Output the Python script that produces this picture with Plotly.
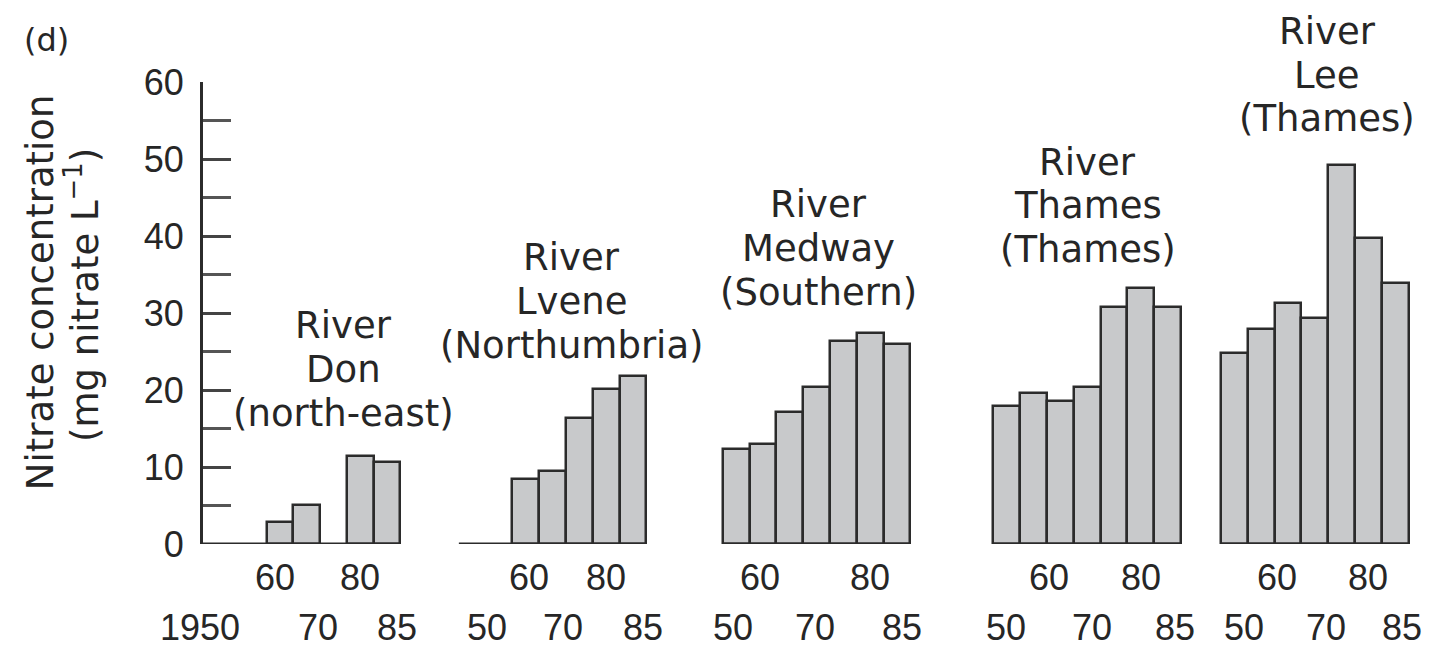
import plotly.graph_objects as go

# ---------------- data ----------------
river_names = ["Don", "Lvene", "Medway", "Thames", "Lee"]
river_regions = ["(north-east)", "(Northumbria)", "(Southern)", "(Thames)", "(Thames)"]
don = [None, None, 2.9, 5.1, None, 11.4, 10.7]
lvene = [None, None, 8.4, 9.5, 16.3, 20.1, 21.8]
medway = [12.3, 13.0, 17.2, 20.4, 26.4, 27.4, 26.0]
thames = [17.9, 19.6, 18.6, 20.4, 30.8, 33.2, 30.8]
lee = [24.8, 27.9, 31.3, 29.4, 49.2, 39.8, 33.9]
series = [don, lvene, medway, thames, lee]

upper_labels = ["60", "80"]
lower_labels_first = ["1950", "70", "85"]
lower_labels = ["50", "70", "85"]

# ---------------- layout constants ----------------
X_MAX = 45.2
Y_MAX = 60.0
group_start = [0.37, 9.55, 19.4, 29.5, 38.0]        # slot units
baseline_start = [0.0, 9.55, 19.4, 29.5, 38.0]
upper_off = [[2.33, 5.49], [2.6, 5.5], [1.4, 5.5], [2.07, 5.5], [2.1, 5.5]]
lower_off = [[-0.5, 3.94, 6.87], [1.05, 3.9, 6.86], [0.37, 3.46, 6.7],
             [0.48, 3.67, 6.78], [0.86, 3.9, 6.75]]
title_cx = [4.86, 4.22, 3.56, 3.53, 3.96]           # title centre offsets (slots)
title_bottom = [17.0, 25.8, 32.7, 38.2, 55.2]       # centre of last title line (data y)
LINE_STEP = 5.7

FONT = "DejaVu Sans, Verdana, sans-serif"
NUMFONT = "Liberation Sans, Arial, Helvetica, sans-serif"
TXT = "#262626"
BAR_FILL = "#c8c9cb"
EDGE = "#2b2b2b"

fig = go.Figure()

annotations = []
for g, vals in enumerate(series):
    xs = [group_start[g] + i + 0.5 for i in range(len(vals))]
    fig.add_trace(go.Bar(x=xs, y=vals, width=1.0,
                         marker=dict(color=BAR_FILL, line=dict(color=EDGE, width=2.5)),
                         showlegend=False, hoverinfo="y"))
    fig.add_trace(go.Scatter(x=[baseline_start[g], group_start[g] + len(vals)], y=[0, 0],
                             mode="lines", line=dict(color=EDGE, width=3),
                             showlegend=False, hoverinfo="skip"))
    for lab, off in zip(upper_labels, upper_off[g]):
        annotations.append(dict(x=(group_start[g] + off) / X_MAX, y=-4.29 / Y_MAX,
                                xref="paper", yref="paper", xanchor="center",
                                text=lab, showarrow=False, yanchor="middle",
                                font=dict(family=NUMFONT, size=36, color=TXT)))
    lows = lower_labels_first if g == 0 else lower_labels
    for lab, off in zip(lows, lower_off[g]):
        annotations.append(dict(x=(group_start[g] + off) / X_MAX, y=-10.78 / Y_MAX,
                                xref="paper", yref="paper", xanchor="center",
                                text=lab, showarrow=False, yanchor="middle",
                                font=dict(family=NUMFONT, size=36, color=TXT)))
    lines = ["River", river_names[g], river_regions[g]]
    for k, line in enumerate(lines):
        yv = title_bottom[g] + (2 - k) * LINE_STEP
        annotations.append(dict(x=(group_start[g] + title_cx[g]) / X_MAX, y=yv / Y_MAX,
                                xref="paper", yref="paper", text=line, showarrow=False,
                                yanchor="middle", xanchor="center",
                                font=dict(family=FONT, size=37, color=TXT)))

# panel letter
annotations.append(dict(x=-0.1495, y=1.091, xref="paper", yref="paper", text="(d)",
                        showarrow=False, xanchor="left", yanchor="middle",
                        font=dict(family=FONT, size=32, color=TXT)))
# y-axis title (two lines)
annotations.append(dict(x=-0.1346, y=0.545, xref="paper", yref="paper",
                        text="Nitrate concentration", textangle=-90, showarrow=False,
                        xanchor="center", yanchor="middle",
                        font=dict(family=FONT, size=37, color=TXT)))
annotations.append(dict(x=-0.0991, y=0.539, xref="paper", yref="paper",
                        text="(mg nitrate L<sup>−1</sup>)", textangle=-90, showarrow=False,
                        xanchor="center", yanchor="middle",
                        font=dict(family=FONT, size=37, color=TXT)))

fig.update_layout(
    width=1434, height=646,
    margin=dict(l=195, r=28, t=74, b=110),
    plot_bgcolor="white", paper_bgcolor="white",
    bargap=0,
    annotations=annotations,
    xaxis=dict(range=[0, X_MAX], showline=False, showticklabels=False, ticks="",
               showgrid=False, zeroline=False, fixedrange=True),
    yaxis=dict(range=[0, Y_MAX], showline=True, linecolor=EDGE, linewidth=3,
               ticks="inside", ticklen=28, tickwidth=3, tickcolor="#444",
               dtick=10, tick0=0, showgrid=False, zeroline=False,
               ticklabelstandoff=9,
               tickfont=dict(family=NUMFONT, size=36, color=TXT),
               minor=dict(dtick=5, ticks="inside", ticklen=28, tickwidth=3,
                          tickcolor="#555", showgrid=False)),
)

fig.write_html("out.html")
